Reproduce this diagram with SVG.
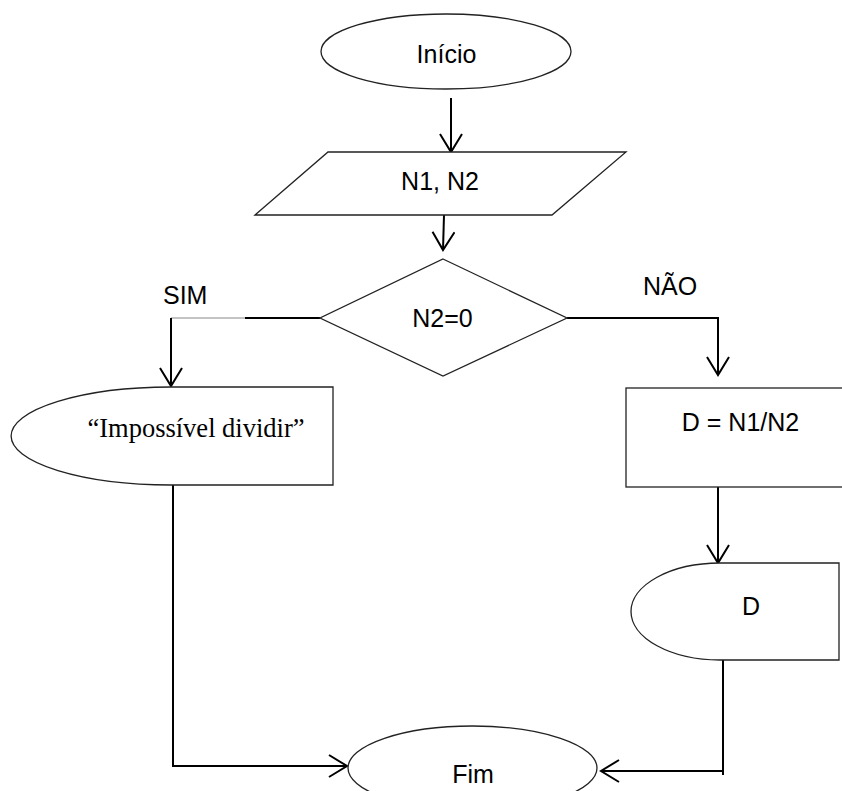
<svg xmlns="http://www.w3.org/2000/svg" width="842" height="791" viewBox="0 0 842 791">
<style>
.shape{fill:#fff;stroke:#222;stroke-width:1.3}
.conn{fill:none;stroke:#000;stroke-width:2}
.thin{fill:none;stroke:#888;stroke-width:1}
.t{font-family:"Liberation Sans",Arial,sans-serif;font-size:25px;fill:#000}
.ts{font-family:"Liberation Serif","Times New Roman",serif;font-size:26.5px;fill:#000}
</style>
<defs>
<marker id="arr" viewBox="-21 -12 23 24" refX="0" refY="0" markerWidth="23" markerHeight="24" markerUnits="userSpaceOnUse" orient="auto">
<path d="M-18,-11 L0,0 L-18,11" fill="none" stroke="#000" stroke-width="2"/>
</marker>
</defs>
<rect width="842" height="791" fill="#fff"/>
<g id="connectors">
<line class="conn" x1="451" y1="98" x2="451" y2="152" marker-end="url(#arr)"/>
<line class="conn" x1="444" y1="215" x2="443" y2="250" marker-end="url(#arr)"/>
<line class="conn" x1="320" y1="318" x2="245" y2="318"/>
<line class="thin" x1="245" y1="318" x2="171" y2="318"/>
<line class="conn" x1="171" y1="318" x2="171" y2="386" marker-end="url(#arr)"/>
<polyline class="conn" points="567,318 718,318 718,375" marker-end="url(#arr)"/>
<line class="conn" x1="718" y1="487" x2="718" y2="563" marker-end="url(#arr)"/>
<polyline class="conn" points="173,485 173,766 347,766" marker-end="url(#arr)"/>
<line class="conn" x1="723" y1="660" x2="723" y2="775"/>
<polyline class="conn" points="723,771 601,771" marker-end="url(#arr)"/>
</g>
<g id="inicio">
<ellipse class="shape" cx="446" cy="51.5" rx="125" ry="37.5"/>
<text class="t" x="446.5" y="63" text-anchor="middle">Início</text>
</g>
<g id="entrada">
<polygon class="shape" points="328,152 626,152 552,215 255,215"/>
<text class="t" x="440" y="190" text-anchor="middle">N1, N2</text>
</g>
<g id="decisao">
<polygon class="shape" points="443,259 567,318 443,376 320,318"/>
<text class="t" x="442.5" y="327" text-anchor="middle">N2=0</text>
</g>
<g id="labels">
<text class="t" x="163" y="304">SIM</text>
<text class="t" x="643" y="295">NÃO</text>
</g>
<g id="impossivel">
<path class="shape" d="M171,387 L333,387 L333,485 L171,485 A160,49 0 0 1 171,387 Z"/>
<text class="ts" x="196" y="437" text-anchor="middle">“Impossível dividir”</text>
</g>
<g id="calculo">
<rect class="shape" x="626" y="388" width="220" height="99" stroke-width="1.6"/>
<text class="t" x="740.5" y="431" text-anchor="middle">D = N1/N2</text>
</g>
<g id="saidaD">
<path class="shape" d="M720,563 L839,563 L839,660 L720,660 A89,48.5 0 0 1 720,563 Z"/>
<text class="t" x="751" y="615" text-anchor="middle">D</text>
</g>
<g id="fim">
<ellipse class="shape" cx="472.5" cy="768" rx="124.5" ry="42"/>
<text class="t" x="473" y="783" text-anchor="middle">Fim</text>
</g>
</svg>
